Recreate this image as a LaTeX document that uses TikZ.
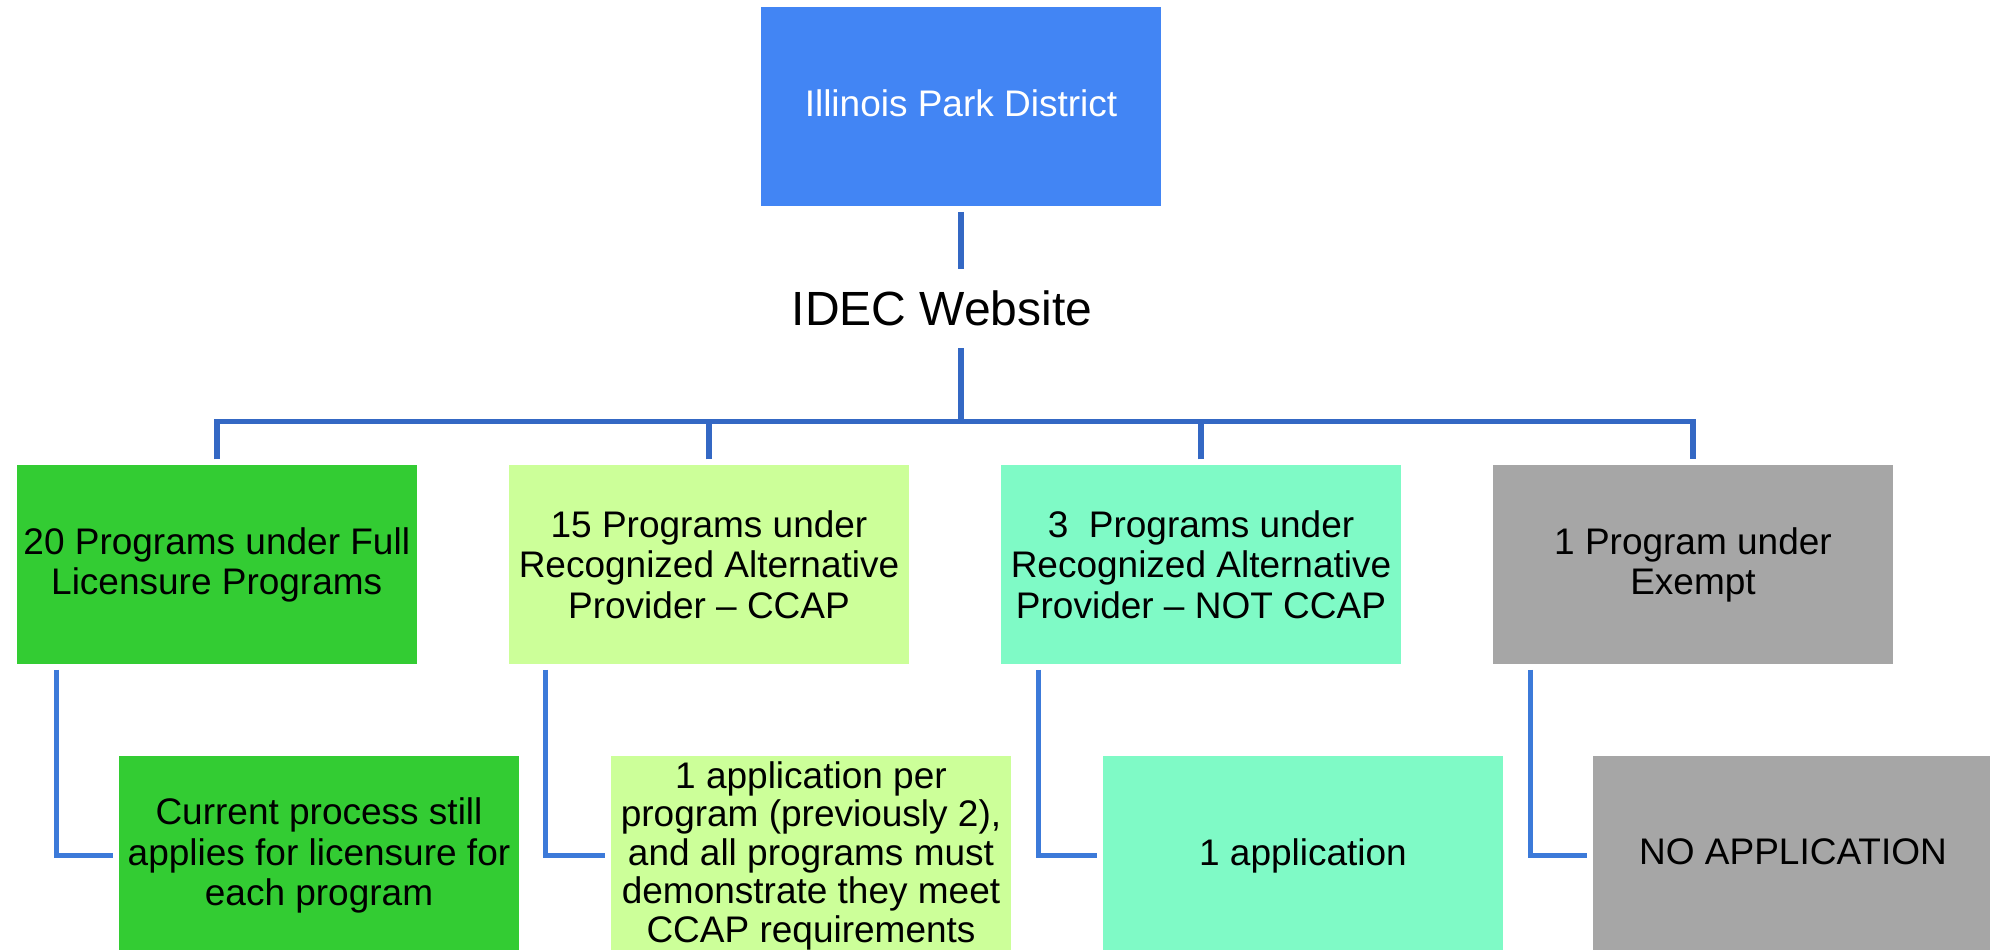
\documentclass[tikz,border=0pt]{standalone}
\usepackage{fontspec}
\setmainfont{Liberation Sans}
\definecolor{topblue}{HTML}{4285F4}
\definecolor{greenA}{HTML}{33CC33}
\definecolor{greenB}{HTML}{CCFF99}
\definecolor{aquaC}{HTML}{7FFAC6}
\definecolor{grayD}{HTML}{A6A6A6}
\definecolor{lineA}{HTML}{3468C4}
\definecolor{lineB}{HTML}{3C7AD9}
\tikzset{
  box/.style={rectangle, minimum width=400pt, minimum height=198.5pt, inner sep=0pt, outer sep=6pt, align=center, font=\fontsize{37}{40.5}\selectfont},
  busline/.style={draw=lineA, line width=5.5pt},
  subline/.style={draw=lineB, line width=5pt},
}
\begin{document}
\begin{tikzpicture}[x=1pt,y=-1pt]
\clip (0,0) rectangle (1990,950);
\fill[white] (0,0) rectangle (1990,950);

\node[box, fill=topblue, text=white] (top) at (961,106.5) {Illinois Park District\vphantom{p}};
\node[inner sep=0pt, minimum height=79pt, font=\fontsize{48}{52}\selectfont] (idec) at (942,308.5) {IDEC Website};

\node[box, fill=greenA] (b1) at (216.75,564.7) {20 Programs under Full\\Licensure Programs};
\node[box, fill=greenB] (b2) at (709,564.7) {15 Programs under\\Recognized Alternative\\Provider -- CCAP};
\node[box, fill=aquaC] (b3) at (1201,564.7) {3\ \ Programs under\\Recognized Alternative\\Provider -- NOT CCAP};
\node[box, fill=grayD] (b4) at (1693,564.7) {1 Program under\\Exempt};

\node[box, fill=greenA] (c1) at (319,855.5) {Current process still\\applies for licensure for\\each program};
\node[box, fill=greenB, font=\fontsize{37}{38.5}\selectfont] (c2) at (811,855.5) {1 application per\\program (previously 2),\\and all programs must\\demonstrate they meet\\CCAP requirements};
\node[box, fill=aquaC] (c3) at (1303,855.5) {1 application};
\node[box, fill=grayD] (c4) at (1793,855.5) {NO APPLICATION\vphantom{p}};

\coordinate (bus) at (961,421.5);

\draw[busline] (top.south) -- (top.south |- idec.north);
\draw[busline] (top.south |- idec.south) -- (bus);
\draw[busline] (b1.north) -- (b1.north |- bus) -- (b4.north |- bus) -- (b4.north);
\draw[busline] (b2.north) -- (b2.north |- bus);
\draw[busline] (b3.north) -- (b3.north |- bus);

\draw[subline] ([xshift=45.3pt]b1.south west) |- (c1.west);
\draw[subline] ([xshift=42.5pt]b2.south west) |- (c2.west);
\draw[subline] ([xshift=43pt]b3.south west) |- (c3.west);
\draw[subline] ([xshift=43pt]b4.south west) |- (c4.west);
\end{tikzpicture}
\end{document}
